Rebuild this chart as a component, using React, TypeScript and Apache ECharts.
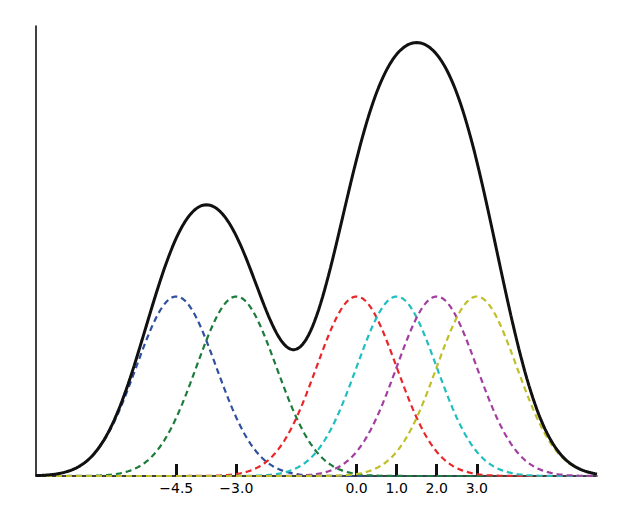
import React, { useEffect, useRef } from "react";
import * as echarts from "echarts";

// Kernel centres (data points) and kernel bandwidth
const centers = [-4.5, -3.0, 0.0, 1.0, 2.0, 3.0];
const bandwidth = 1.0;
const kernelColors = ["#2f4f9f", "#1b7b3b", "#e8262a", "#1fbfbf", "#a23ea0", "#bfbf2a"];
const xMin = -8;
const xMax = 6;
const step = 0.05;

const gauss = (x: number, mu: number) =>
  Math.exp(-0.5 * ((x - mu) / bandwidth) ** 2) / (bandwidth * Math.sqrt(2 * Math.PI));

export default function App() {
  const ref = useRef<HTMLDivElement>(null);
  useEffect(() => {
    if (!ref.current) return;
    const chart = echarts.init(ref.current, null, { renderer: "svg" });
    const xs: number[] = [];
    for (let i = 0; i <= Math.round((xMax - xMin) / step); i++) xs.push(+(xMin + i * step).toFixed(4));
    const kernelSeries = centers.map((c, k) => ({
      type: "line",
      data: xs.map((x) => [x, gauss(x, c)]),
      showSymbol: false,
      smooth: false,
      lineStyle: { color: kernelColors[k], width: 2.2, type: [6, 4] },
      z: 2,
    }));
    const sum = {
      type: "line",
      data: xs.map((x) => [x, centers.reduce((s, c) => s + gauss(x, c), 0)]),
      showSymbol: false,
      lineStyle: { color: "#111", width: 3 },
      z: 3,
    };
    chart.setOption({
      animation: false,
      grid: { left: 36, right: 43, top: 26, bottom: 50 },
      xAxis: {
        type: "value",
        min: xMin,
        max: xMax,
        axisLine: { show: true, onZero: false, lineStyle: { color: "#000", width: 1.5 } },
        axisTick: {
          show: true,
          inside: true,
          length: 12,
          customValues: centers,
          lineStyle: { color: "#111", width: 3 },
        },
        axisLabel: {
          show: true,
          customValues: centers,
          margin: 5,
          fontFamily: "DejaVu Sans",
          fontSize: 14,
          color: "#000",
          formatter: (v: number) => v.toFixed(1).replace("-", "\u2212"),
        },
        splitLine: { show: false },
      },
      yAxis: {
        type: "value",
        min: 0,
        max: 1.0,
        axisLine: { show: true, onZero: false, lineStyle: { color: "#000", width: 1.5 } },
        axisTick: { show: false },
        axisLabel: { show: false },
        splitLine: { show: false },
      },
      series: [...kernelSeries, sum],
    });
    return () => chart.dispose();
  }, []);
  return (
    <div
      ref={ref}
      style={{ position: "absolute", left: 0, top: 0, width: 640, height: 526, background: "#fff" }}
    />
  );
}
